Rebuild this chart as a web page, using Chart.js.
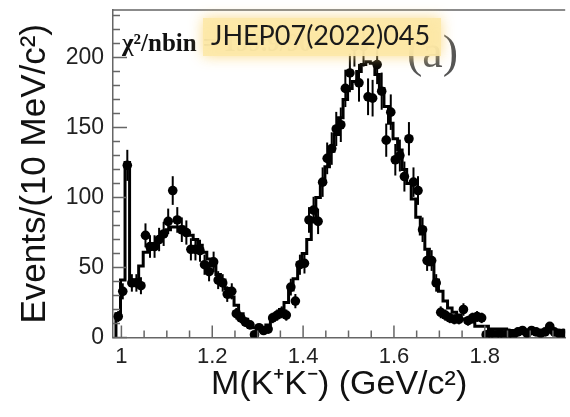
<!DOCTYPE html>
<html>
<head>
<meta charset="utf-8">
<script src="https://cdn.jsdelivr.net/npm/chart.js@4"></script>
<style>
  body { margin: 0; background: #fff; }
</style>
</head>
<body>
<canvas id="graficoKK" width="570" height="417"></canvas>
<script>
// Histograma M(K+K-), bins de 10 MeV
var binStart = 0.988;
var binWidth = 0.01;

// Eventos por bin (pontos pretos)
var counts = [
  15, 33, 123, 39, 39, 37, 73, 65, 65, 70,
  74, 83, 105, 84, 77, 75, 63, 63, 62, 52,
  47, 54, 41, 39, 31, 33, 17, 14, 11, 9,
  2, 7, 5, 6, 14, 16, 18, 16, 36, 26,
  52, 53, 84, 91, 83, 111, 128, 135, 149, 152,
  178, 189, 208, 182, 208, 172, 171, 195, 176, 141,
  161, 127, 130, 115, 142, 111, 105, 77, 55, 55,
  39, 18, 16, 14, 13, 13, 20, 12, 14, 15,
  14, 2, 3, 2, 3, 2, 3, 2, 4, 5,
  3, 5, 4, 3, 4, 8, 4, 3, 3
];

// Resultado do ajuste (histograma em degraus)
var fit = [
  17, 41, 125, 41, 41, 51, 61, 64, 67, 70,
  73, 77, 79, 79, 79, 76, 73, 70, 66, 61,
  56, 51, 45, 41, 35, 29, 23, 17, 13, 10,
  7, 6, 7, 9, 13, 17, 20, 25, 34, 42,
  53, 60, 70, 85, 100, 111, 122, 133, 145, 157,
  170, 178, 183, 190, 195, 197, 196, 188, 178, 165,
  153, 142, 134, 120, 110, 99, 86, 74, 63, 52,
  41, 33, 26, 21, 18, 16, 13, 11, 11, 8,
  8, 8, 6, 6, 6, 6, 5, 5, 5, 5,
  4, 4, 4, 4, 4, 4, 4, 4, 4
];

var xTicks = [1, 1.2, 1.4, 1.6, 1.8];
var yTicks = [0, 50, 100, 150, 200];

// pontos: centro do bin
var pontos = counts.map(function (n, i) {
  return { x: binStart + binWidth * (i + 0.5), y: n };
});

// degraus: borda esquerda de cada bin
var degraus = [{ x: binStart, y: 0 }];
fit.forEach(function (v, i) {
  degraus.push({ x: binStart + binWidth * i, y: v });
});
degraus.push({ x: binStart + binWidth * fit.length, y: fit[fit.length - 1] });

var corEixo = '#666';

// barras de erro (raiz de N)
var barrasErro = {
  id: 'barrasErro',
  beforeDatasetsDraw: function (chart) {
    var ctx = chart.ctx;
    var y = chart.scales.y;
    var meta = chart.getDatasetMeta(1);
    ctx.save();
    ctx.strokeStyle = '#000';
    ctx.lineWidth = 2;
    meta.data.forEach(function (el, i) {
      var n = counts[i];
      var e = Math.sqrt(n);
      ctx.beginPath();
      ctx.moveTo(el.x, y.getPixelForValue(n + e));
      ctx.lineTo(el.x, y.getPixelForValue(Math.max(n - e, 0)));
      ctx.stroke();
    });
    ctx.restore();
  }
};

// ticks para dentro, moldura e textos
var moldura = {
  id: 'moldura',
  afterDraw: function (chart) {
    var ctx = chart.ctx;
    var area = chart.chartArea;
    var sx = chart.scales.x;
    var sy = chart.scales.y;
    ctx.save();
    ctx.strokeStyle = corEixo;
    ctx.lineWidth = 1.5;
    ctx.beginPath();
    ctx.moveTo(area.left, area.top);
    ctx.lineTo(area.right, area.top);
    for (var k = 0; k < 20; k++) {
      var px = sx.getPixelForValue(1 + 0.05 * k);
      if (px > area.right) break;
      var longo = k % 4 === 0;
      ctx.moveTo(px, area.bottom);
      ctx.lineTo(px, area.bottom - (longo ? 12 : 7));
    }
    for (var j = 0; j <= 23; j++) {
      var py = sy.getPixelForValue(j * 10);
      var maior = j % 5 === 0;
      ctx.moveTo(area.left, py);
      ctx.lineTo(area.left + (maior ? 14 : 7), py);
    }
    ctx.stroke();

    // chi2 e (a), parcialmente cobertos pela etiqueta
    ctx.fillStyle = '#111';
    ctx.font = 'bold 25px "Liberation Serif"';
    ctx.textBaseline = 'alphabetic';
    ctx.fillText('\u03c7\u00b2/nbin = 199.9/90', 122, 51);
    ctx.fillStyle = '#555';
    ctx.font = '46px "Liberation Serif"';
    ctx.fillText('(a)', 407, 67);

    // etiqueta amarela
    ctx.shadowColor = 'rgba(250, 214, 120, 0.95)';
    ctx.shadowBlur = 14;
    ctx.fillStyle = 'rgba(253, 233, 168, 0.9)';
    ctx.fillRect(203, 18, 238, 38);
    ctx.shadowBlur = 0;
    ctx.fillStyle = '#1a1a1a';
    ctx.font = '27px Lato';
    ctx.fillText('JHEP07(2022)045', 211, 45);
    ctx.restore();
  }
};

var ctx = document.getElementById('graficoKK').getContext('2d');
new Chart(ctx, {
  type: 'scatter',
  data: {
    datasets: [{
      data: degraus,
      showLine: true,
      stepped: true,
      borderColor: '#000',
      borderWidth: 3,
      pointRadius: 0
    }, {
      data: pontos,
      pointRadius: 4.8,
      backgroundColor: '#000',
      borderColor: '#000',
      borderWidth: 0
    }]
  },
  options: {
    responsive: false,
    animation: false,
    layout: { padding: { top: 10, right: 0, left: 0, bottom: 0 } },
    plugins: {
      legend: { display: false },
      tooltip: { enabled: false }
    },
    scales: {
      x: {
        type: 'linear',
        min: 0.9815,
        max: 1.977,
        afterBuildTicks: function (s) {
          s.ticks = xTicks.map(function (v) { return { value: v }; });
        },
        afterFit: function (s) {
          s.height = 79.5;
          s.paddingLeft = 0;
          s.paddingRight = 0;
        },
        grid: { display: false, drawTicks: false },
        border: { display: true, color: corEixo, width: 1.5 },
        ticks: {
          padding: 6,
          color: '#222',
          font: { family: '"Liberation Sans"', size: 22 },
          maxRotation: 0,
          callback: function (v) { return v === 1 ? '1' : v.toFixed(1); }
        },
        title: {
          display: true,
          text: 'M(K\u207aK\u207b) (GeV/c\u00b2)',
          color: '#111',
          font: { family: '"Liberation Sans"', size: 34 },
          padding: { top: 0, bottom: 12 }
        }
      },
      y: {
        min: 0,
        max: 234,
        afterBuildTicks: function (s) {
          s.ticks = yTicks.map(function (v) { return { value: v }; });
        },
        afterFit: function (s) {
          s.width = 113;
          s.paddingTop = 0;
          s.paddingBottom = 0;
        },
        grid: { display: false, drawTicks: false },
        border: { display: true, color: corEixo, width: 1.5 },
        ticks: {
          padding: 9,
          color: '#222',
          font: { family: '"Liberation Sans"', size: 23 }
        },
        title: {
          display: true,
          text: 'Events/(10 MeV/c\u00b2)',
          color: '#111',
          font: { family: '"Liberation Sans"', size: 35 },
          padding: { top: 14, bottom: 0 }
        }
      }
    }
  },
  plugins: [barrasErro, moldura]
});
</script>
</body>
</html>
